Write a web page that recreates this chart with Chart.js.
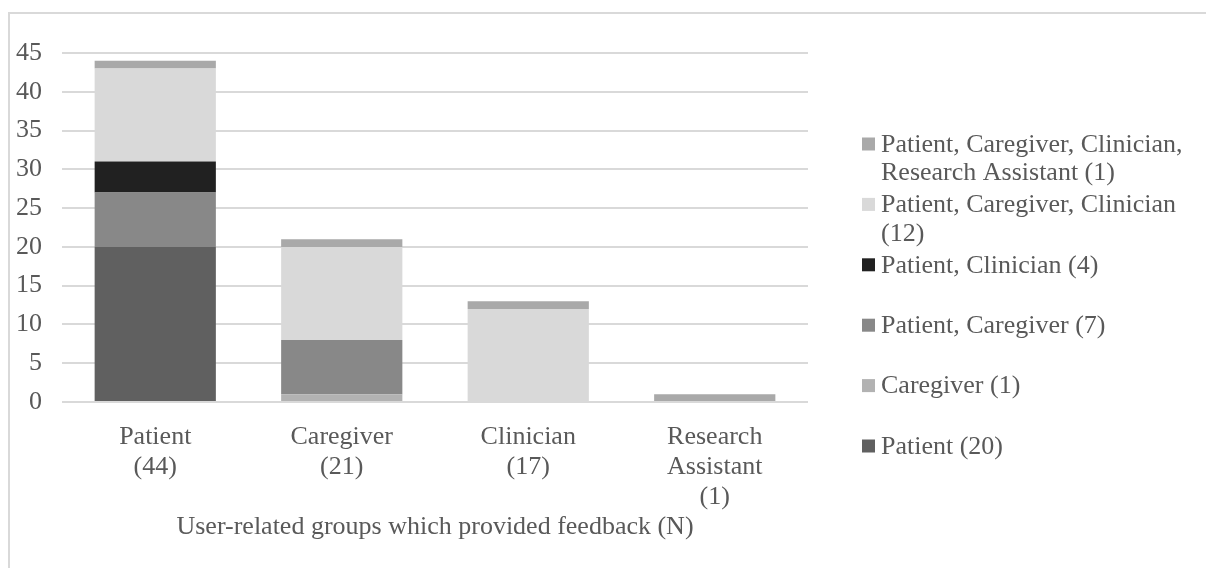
<!DOCTYPE html>
<html>
<head>
<meta charset="utf-8">
<title>User-related groups which provided feedback</title>
<script src="https://cdn.jsdelivr.net/npm/chart.js@4/dist/chart.umd.min.js"></script>
<style>
  html, body { margin: 0; padding: 0; background: #ffffff; overflow: hidden; }
  #wrap { position: relative; width: 1206px; height: 568px; }
</style>
</head>
<body>
<div id="wrap"><canvas id="chart" width="1206" height="568"></canvas></div>
<script>
// Categories (x-axis, multi-line labels)
const categories = [
  ["Patient", "(44)"],
  ["Caregiver", "(21)"],
  ["Clinician", "(17)"],
  ["Research", "Assistant", "(1)"]
];

// Series, bottom of the stack first
const seriesNames = [
  "Patient (20)",
  "Caregiver (1)",
  "Patient, Caregiver (7)",
  "Patient, Clinician (4)",
  "Patient, Caregiver, Clinician (12)",
  "Patient, Caregiver, Clinician, Research Assistant (1)"
];
const patientOnly               = [20, 0, 0, 0];
const caregiverOnly             = [0, 1, 0, 0];
const patientCaregiver          = [7, 7, 0, 0];
const patientClinician          = [4, 0, 0, 0];
const patientCaregiverClinician = [12, 12, 12, 0];
const allFourGroups             = [1, 1, 1, 1];

// Y-axis ticks
const yTicks = [0, 5, 10, 15, 20, 25, 30, 35, 40, 45];

const xAxisTitle = "User-related groups which provided feedback (N)";

const seriesValues = [patientOnly, caregiverOnly, patientCaregiver,
                      patientClinician, patientCaregiverClinician, allFourGroups];
const seriesColors = ["#606060", "#b2b2b2", "#888888", "#212121", "#d9d9d9", "#a9a9a9"];

const FONT = '"Liberation Serif", "Times New Roman", Times, serif';
const TEXT = "#595959";

// Frame lines around the chart object
const framePlugin = {
  id: "frame",
  beforeDraw(chart) {
    const ctx = chart.ctx;
    ctx.save();
    ctx.fillStyle = "#d9d9d9";
    ctx.fillRect(8, 12, chart.width - 8, 2);
    ctx.fillRect(8, 12, 2, chart.height - 12);
    ctx.restore();
  }
};

// Right-hand legend with wrapped labels, last series on top
const sideLegend = {
  id: "sideLegend",
  afterDraw(chart) {
    const ctx = chart.ctx;
    const boxX = 862, textX = 881, box = 13;
    const startY = 145, step = 60.4, lineGap = 28.5;
    const maxW = chart.width - textX - 6;
    ctx.save();
    ctx.font = "26px " + FONT;
    ctx.textBaseline = "middle";
    ctx.textAlign = "left";
    const ds = chart.data.datasets.slice().reverse();
    ds.forEach((d, i) => {
      const y0 = startY + i * step;
      ctx.fillStyle = d.backgroundColor;
      ctx.fillRect(boxX, y0 - box / 2 - 1, box, box);
      // word wrap
      const words = d.label.split(" ");
      const lines = [];
      let cur = "";
      words.forEach(w => {
        const test = cur ? cur + " " + w : w;
        if (ctx.measureText(test).width > maxW && cur) {
          lines.push(cur);
          cur = w;
        } else {
          cur = test;
        }
      });
      if (cur) lines.push(cur);
      ctx.fillStyle = TEXT;
      lines.forEach((ln, k) => ctx.fillText(ln, textX, y0 + k * lineGap));
    });
    ctx.restore();
  }
};

Chart.defaults.font.family = FONT;
Chart.defaults.color = TEXT;

new Chart(document.getElementById("chart"), {
  type: "bar",
  data: {
    labels: categories,
    datasets: seriesNames.map((name, i) => ({
      label: name,
      data: seriesValues[i],
      backgroundColor: seriesColors[i],
      borderWidth: 0,
      barPercentage: 0.65,
      categoryPercentage: 1.0
    }))
  },
  options: {
    responsive: false,
    animation: false,
    layout: { padding: { left: 0, top: 53, right: 398, bottom: 26 } },
    plugins: {
      legend: { display: false },
      tooltip: { enabled: false }
    },
    scales: {
      x: {
        stacked: true,
        grid: { display: false, drawTicks: false },
        border: { display: false },
        ticks: {
          font: { size: 26, lineHeight: 1.15 },
          color: TEXT,
          padding: 20,
          maxRotation: 0,
          autoSkip: false
        },
        title: {
          display: true,
          text: xAxisTitle,
          font: { size: 26, lineHeight: 1.15 },
          color: TEXT,
          padding: 0
        },
        afterFit(scale) { scale.height = 140; }
      },
      y: {
        stacked: true,
        min: 0,
        max: 45,
        afterBuildTicks(scale) { scale.ticks = yTicks.map(v => ({ value: v })); },
        grid: { color: "#d9d9d9", lineWidth: 2, drawTicks: false },
        border: { display: false },
        ticks: {
          font: { size: 26 },
          color: TEXT,
          padding: 20
        },
        afterFit(scale) { scale.width = 62; }
      }
    }
  },
  plugins: [framePlugin, sideLegend]
});
</script>
</body>
</html>
